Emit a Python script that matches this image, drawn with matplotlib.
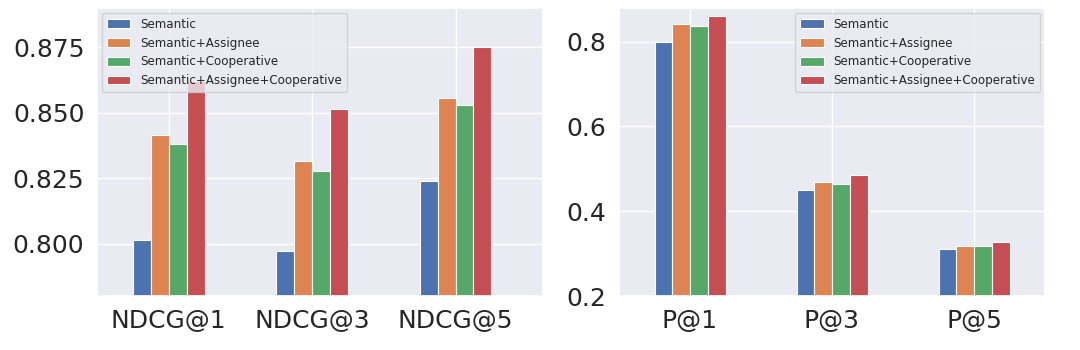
import numpy as np
import matplotlib
matplotlib.use("Agg")
import matplotlib.pyplot as plt
import seaborn as sns

# ─────────────────────────────────────────────
# Daten
# ─────────────────────────────────────────────
SERIES = ["Semantic", "Semantic+Assignee", "Semantic+Cooperative",
          "Semantic+Assignee+Cooperative"]

NDCG_LABELS = ["NDCG@1", "NDCG@3", "NDCG@5"]
NDCG_SEMANTIC = [0.8013, 0.7973, 0.8241]
NDCG_ASSIGNEE = [0.8415, 0.8316, 0.8556]
NDCG_COOP = [0.8380, 0.8278, 0.8529]
NDCG_ALL = [0.8623, 0.8513, 0.8750]

P_LABELS = ["P@1", "P@3", "P@5"]
P_SEMANTIC = [0.800, 0.449, 0.310]
P_ASSIGNEE = [0.841, 0.468, 0.319]
P_COOP = [0.837, 0.465, 0.318]
P_ALL = [0.860, 0.485, 0.328]

sns.set_theme(style="darkgrid")
plt.rcParams["font.family"] = ["DejaVu Sans"]
COLORS = sns.color_palette("deep")[:4]


def draw_group(ax, labels, values, ylim, yticks, yfmt, xlim, legend_loc):
    x = np.arange(len(labels))
    width = 0.125
    for i, (vals, name) in enumerate(zip(values, SERIES)):
        ax.bar(x + (i - 1.5) * width, vals, width, color=COLORS[i],
               edgecolor="white", linewidth=0.8, label=name, zorder=2)
    ax.set_xticks(x)
    ax.set_xticklabels(labels)
    ax.set_xlim(*xlim)
    ax.set_ylim(*ylim)
    ax.set_yticks(yticks)
    ax.set_yticklabels([yfmt.format(t) for t in yticks])
    ax.tick_params(axis="both", labelsize=18, pad=9, length=0,
                   labelcolor="#262626")
    leg = ax.legend(loc=legend_loc, fontsize=8.6, framealpha=0.8,
                    borderaxespad=0.4)
    leg.set_zorder(5)


fig = plt.figure(figsize=(10.8, 3.5), dpi=100)
ax1 = fig.add_axes([97 / 1080, 54 / 350, 446 / 1080, 288 / 350])
ax2 = fig.add_axes([619 / 1080, 54 / 350, 426 / 1080, 288 / 350])

draw_group(ax1, NDCG_LABELS, [NDCG_SEMANTIC, NDCG_ASSIGNEE, NDCG_COOP, NDCG_ALL],
           (0.78, 0.89), [0.800, 0.825, 0.850, 0.875], "{:.3f}",
           (-0.5, 2.61), "upper left")
draw_group(ax2, P_LABELS, [P_SEMANTIC, P_ASSIGNEE, P_COOP, P_ALL],
           (0.2, 0.879), [0.2, 0.4, 0.6, 0.8], "{:.1f}",
           (-0.5, 2.5), "upper right")

fig.savefig("out.png", dpi=100, facecolor="white")
